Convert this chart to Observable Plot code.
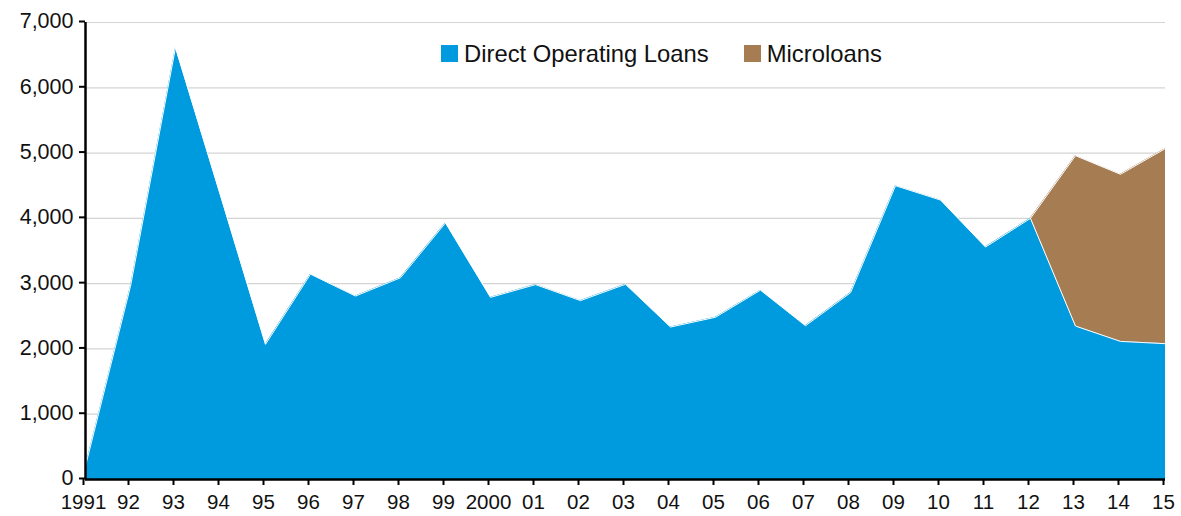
<!DOCTYPE html>
<html>
<head>
<meta charset="utf-8">
<script src="https://cdn.jsdelivr.net/npm/d3@7"></script>
<script src="https://cdn.jsdelivr.net/npm/@observablehq/plot@0.6"></script>
<style>
  html, body { margin: 0; padding: 0; background: #fff; }
  #wrap { position: relative; width: 1181px; height: 516px; font-family: "Liberation Sans", Arial, Helvetica, sans-serif; }
  #legend { position: absolute; left: 441px; top: 40px; display: flex; align-items: center; font-size: 23.8px; color: #111; line-height: 27px; }
  .item { display: flex; align-items: center; margin-right: 35px; }
  .sw { width: 17px; height: 17px; margin-right: 6px; }
</style>
</head>
<body>
<div id="wrap"><div id="legend"></div></div>
<script>
const years = [1991,1992,1993,1994,1995,1996,1997,1998,1999,2000,2001,2002,2003,2004,2005,2006,2007,2008,2009,2010,2011,2012,2013,2014,2015];
const directOperating = [205,2960,6615,4350,2070,3145,2810,3090,3930,2790,2985,2740,2990,2335,2485,2900,2355,2860,4500,4280,3560,4000,2350,2115,2080];
const microYears = [2012,2013,2014,2015];
const microloans = [0,2610,2560,2990];
const seriesNames = ["Direct Operating Loans", "Microloans"];
const seriesColors = ["#009bdf", "#a67c52"];
const xTickLabels = ["1991","92","93","94","95","96","97","98","99","2000","01","02","03","04","05","06","07","08","09","10","11","12","13","14","15"];
const yTicks = [0,1000,2000,3000,4000,5000,6000,7000];

const data = [
  ...years.map((y, i) => ({year: y, series: seriesNames[0], value: directOperating[i]})),
  ...microYears.map((y, i) => ({year: y, series: seriesNames[1], value: microloans[i]}))
];

const xFmt = d => xTickLabels[years.indexOf(d)];

const chart = Plot.plot({
  width: 1181,
  height: 516,
  marginLeft: 85,
  marginRight: 16,
  marginTop: 22,
  marginBottom: 37,
  style: {fontFamily: '"Liberation Sans", Arial, Helvetica, sans-serif', fontSize: "20px", color: "#111", background: "white"},
  x: {type: "linear", domain: [1991, 2015], label: null},
  y: {domain: [0, 7000], label: null},
  color: {domain: seriesNames, range: seriesColors},
  marks: [
    Plot.gridY(yTicks, {stroke: "#d4d4d4", strokeOpacity: 1, strokeWidth: 1.2}),
    Plot.areaY(data, Plot.stackY({x: "year", y: "value", z: "series", fill: "series", order: seriesNames})),
    Plot.lineY(data, Plot.stackY2({x: "year", y: "value", z: "series", order: seriesNames, stroke: "white", strokeWidth: 1})),
    Plot.axisY({ticks: yTicks, tickFormat: d3.format(","), stroke: "#000", strokeWidth: 2, fontSize: 21.5, tickSize: 6, tickPadding: 6, dy: -1, label: null}),
    Plot.axisX({ticks: years, tickFormat: xFmt, stroke: "#000", strokeWidth: 2, fontSize: 20.5, tickSize: 6, tickPadding: 8.5, dx: -2, label: null}),
    Plot.ruleX([1991], {stroke: "#000", strokeWidth: 2.5}),
    Plot.ruleY([0], {stroke: "#000", strokeWidth: 2.5})
  ]
});
document.getElementById("wrap").appendChild(chart);
chart.style.position = "absolute";
chart.style.left = "0";
chart.style.top = "0";

const legend = document.getElementById("legend");
legend.style.zIndex = 2;
seriesNames.forEach((name, i) => {
  const item = document.createElement("div");
  item.className = "item";
  const sw = document.createElement("div");
  sw.className = "sw";
  sw.style.background = seriesColors[i];
  const t = document.createElement("span");
  t.textContent = name;
  item.appendChild(sw);
  item.appendChild(t);
  legend.appendChild(item);
});
</script>
</body>
</html>
